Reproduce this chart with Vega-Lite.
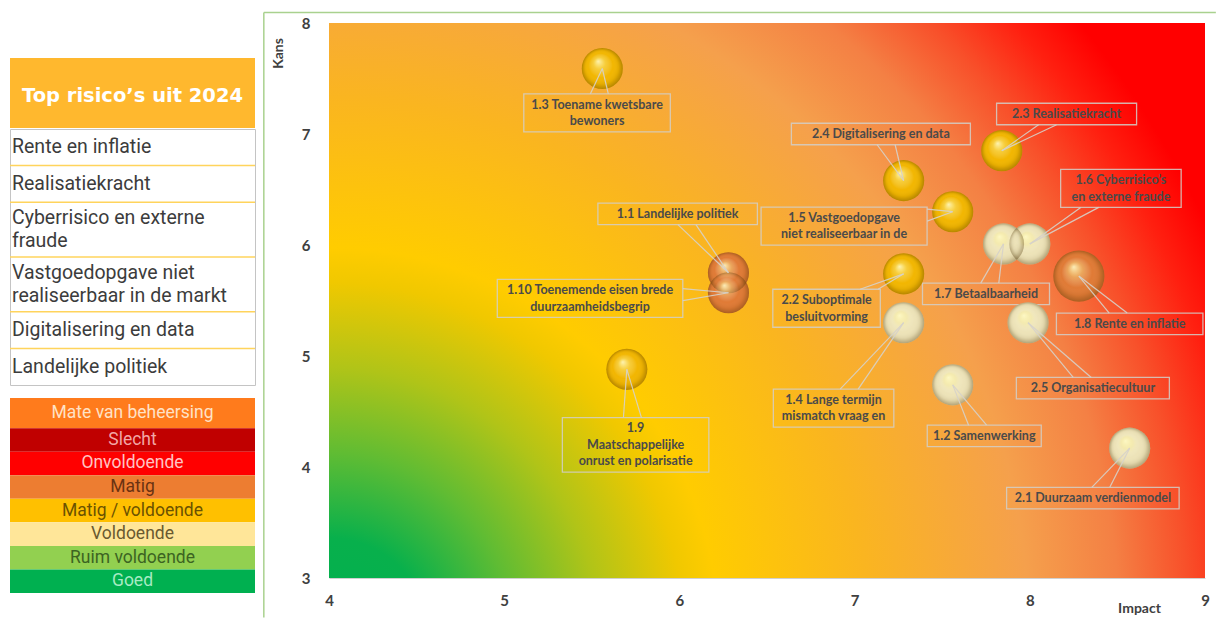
{
  "$schema": "https://vega.github.io/schema/vega-lite/v6.json",
  "padding": {"left": 8, "top": 11, "right": 0, "bottom": 0},
  "background": "white",
  "config": {"view": {"stroke": null}},
  "datasets": {
    "toplijst": [
      {"nr": 1, "risico": "Rente en inflatie"},
      {"nr": 2, "risico": "Realisatiekracht"},
      {"nr": 3, "risico": "Cyberrisico en externe\nfraude"},
      {"nr": 4, "risico": "Vastgoedopgave niet\nrealiseerbaar in de markt"},
      {"nr": 5, "risico": "Digitalisering en data"},
      {"nr": 6, "risico": "Landelijke politiek"}
    ],
    "beheersing": [
      {"nr": 0, "niveau": "Mate van beheersing"},
      {"nr": 1, "niveau": "Slecht"},
      {"nr": 2, "niveau": "Onvoldoende"},
      {"nr": 3, "niveau": "Matig"},
      {"nr": 4, "niveau": "Matig / voldoende"},
      {"nr": 5, "niveau": "Voldoende"},
      {"nr": 6, "niveau": "Ruim voldoende"},
      {"nr": 7, "niveau": "Goed"}
    ],
    "risicos": [
      {"id": "1.3", "label": "1.3 Toename kwetsbare\nbewoners", "impact": 5.56, "kans": 7.59, "beheersing": "Matig / voldoende", "omvang": 1, "lx": 5.53, "ly": 7.19},
      {"id": "1.1", "label": "1.1 Landelijke politiek", "impact": 6.28, "kans": 5.75, "beheersing": "Matig", "omvang": 1, "lx": 5.99, "ly": 6.28},
      {"id": "1.10", "label": "1.10 Toenemende eisen brede\nduurzaamheidsbegrip", "impact": 6.28, "kans": 5.57, "beheersing": "Matig", "omvang": 1, "lx": 5.49, "ly": 5.52},
      {"id": "1.9", "label": "1.9\nMaatschappelijke\nonrust en polarisatie", "impact": 5.70, "kans": 4.88, "beheersing": "Matig / voldoende", "omvang": 1, "lx": 5.75, "ly": 4.20},
      {"id": "2.4", "label": "2.4 Digitalisering en data", "impact": 7.28, "kans": 6.58, "beheersing": "Matig / voldoende", "omvang": 1, "lx": 7.15, "ly": 7.00},
      {"id": "2.3", "label": "2.3 Realisatiekracht", "impact": 7.84, "kans": 6.85, "beheersing": "Matig / voldoende", "omvang": 1, "lx": 8.21, "ly": 7.18},
      {"id": "1.5", "label": "1.5 Vastgoedopgave\nniet realiseerbaar in de", "impact": 7.56, "kans": 6.30, "beheersing": "Matig / voldoende", "omvang": 1, "lx": 6.94, "ly": 6.17},
      {"id": "1.6", "label": "1.6 Cyberrisico’s\nen externe fraude", "impact": 8.00, "kans": 6.01, "beheersing": "Voldoende", "omvang": 1, "lx": 8.52, "ly": 6.51},
      {"id": "1.7", "label": "1.7 Betaalbaarheid", "impact": 7.85, "kans": 6.01, "beheersing": "Voldoende", "omvang": 1, "lx": 7.75, "ly": 5.56},
      {"id": "1.8", "label": "1.8 Rente en inflatie", "impact": 8.28, "kans": 5.72, "beheersing": "Matig", "omvang": 1.55, "lx": 8.57, "ly": 5.29},
      {"id": "2.2", "label": "2.2 Suboptimale\nbesluitvorming", "impact": 7.28, "kans": 5.74, "beheersing": "Matig / voldoende", "omvang": 1, "lx": 6.84, "ly": 5.43},
      {"id": "1.4", "label": "1.4 Lange termijn\nmismatch vraag en", "impact": 7.28, "kans": 5.30, "beheersing": "Voldoende", "omvang": 1, "lx": 6.88, "ly": 4.53},
      {"id": "2.5", "label": "2.5 Organisatiecultuur", "impact": 7.99, "kans": 5.30, "beheersing": "Voldoende", "omvang": 1, "lx": 8.36, "ly": 4.71},
      {"id": "1.2", "label": "1.2 Samenwerking", "impact": 7.56, "kans": 4.74, "beheersing": "Voldoende", "omvang": 1, "lx": 7.74, "ly": 4.28},
      {"id": "2.1", "label": "2.1 Duurzaam verdienmodel", "impact": 8.57, "kans": 4.17, "beheersing": "Voldoende", "omvang": 1, "lx": 8.36, "ly": 3.72}
    ]
  },
  "spacing": 6,
  "hconcat": [
    {
      "spacing": 0,
      "vconcat": [
        {"width": 245, "height": 34.5, "data": {"values": [{}]}, "mark": {"type": "text", "text": ""}, "encoding": {}},
        {
          "width": 245, "height": 70,
          "view": {"fill": "#FFB82E", "stroke": null},
          "data": {"values": [{"kop": "Top risico’s uit 2024"}]},
          "mark": {"type": "text", "font": "DejaVu Sans", "fontWeight": "bold", "fontSize": 19.5, "color": "#FFFFFF", "dy": 3},
          "encoding": {"text": {"field": "kop"}}
        },
        {
          "width": 245, "height": 256,
          "view": {"fill": "#FFFFFF", "stroke": "#C4C4C4"},
          "data": {"name": "toplijst"},
          "transform": [
            {"calculate": "length(split(datum.risico, '\\n'))", "as": "nl"},
            {"calculate": "datum.nl + 1", "as": "w"},
            {"stack": "w", "groupby": [], "sort": [{"field": "nr", "order": "ascending"}], "as": ["y0", "y1"]},
            {"calculate": "(datum.y0 + datum.y1) / 2 - (datum.nl - 1) * 11.5 / 18.286", "as": "mid"}
          ],
          "layer": [
            {
              "transform": [{"filter": "datum.nr < 6"}],
              "mark": {"type": "rule", "color": "#FFD45C", "strokeWidth": 1.5},
              "encoding": {"y": {"field": "y1", "type": "quantitative", "scale": {"domain": [0, 14], "reverse": true, "nice": false, "zero": false}, "axis": null}}
            },
            {
              "mark": {"type": "text", "align": "left", "baseline": "middle", "font": "Roboto", "fontSize": 19.5, "color": "#3C3C3C", "lineBreak": "\n", "lineHeight": 23, "dx": 2},
              "encoding": {
                "x": {"datum": 0, "type": "quantitative", "scale": {"domain": [0, 1], "nice": false, "zero": false}, "axis": null},
                "y": {"field": "mid", "type": "quantitative", "scale": {"domain": [0, 14], "reverse": true, "nice": false, "zero": false}, "axis": null},
                "text": {"field": "risico"}
              }
            }
          ]
        },
        {"width": 245, "height": 12, "data": {"values": [{}]}, "mark": {"type": "text", "text": ""}, "encoding": {}},
        {
          "width": 245, "height": 195,
          "data": {"name": "beheersing"},
          "transform": [
            {"calculate": "datum.nr == 0 ? 1.28 : 1", "as": "w"},
            {"stack": "w", "groupby": [], "sort": [{"field": "nr", "order": "ascending"}], "as": ["y0", "y1"]},
            {"calculate": "(datum.y0 + datum.y1) / 2", "as": "mid"}
          ],
          "resolve": {"scale": {"color": "independent"}},
          "layer": [
            {
              "mark": {"type": "rect"},
              "encoding": {
                "x": {"datum": 0, "type": "quantitative", "scale": {"domain": [0, 1], "nice": false, "zero": false}, "axis": null},
                "x2": {"datum": 1},
                "y": {"field": "y0", "type": "quantitative", "scale": {"domain": [0, 8.28], "reverse": true, "nice": false, "zero": false}, "axis": null},
                "y2": {"field": "y1"},
                "color": {"field": "niveau", "type": "nominal", "legend": null,
                  "scale": {"domain": ["Mate van beheersing", "Slecht", "Onvoldoende", "Matig", "Matig / voldoende", "Voldoende", "Ruim voldoende", "Goed"],
                            "range": ["#FF7B1C", "#C00000", "#FF0000", "#ED7D31", "#FFC000", "#FFE699", "#92D050", "#00B050"]}}
              }
            },
            {
              "mark": {"type": "text", "align": "center", "baseline": "middle", "font": "Roboto", "fontSize": 17.5},
              "encoding": {
                "x": {"datum": 0.5, "type": "quantitative", "scale": {"domain": [0, 1], "nice": false, "zero": false}, "axis": null},
                "y": {"field": "mid", "type": "quantitative", "scale": {"domain": [0, 8.28], "reverse": true, "nice": false, "zero": false}, "axis": null},
                "text": {"field": "niveau"},
                "color": {"field": "niveau", "type": "nominal", "legend": null,
                  "scale": {"domain": ["Mate van beheersing", "Slecht", "Onvoldoende", "Matig", "Matig / voldoende", "Voldoende", "Ruim voldoende", "Goed"],
                            "range": ["#FFE2C6", "#F2A6A6", "#FFC4C4", "#6A3212", "#6B5200", "#6A5A30", "#3C6422", "#A6EBC4"]}}
              }
            }
          ]
        }
      ]
    },
    {
      "width": 876,
      "height": 555,
      "layer": [
        {
          "data": {"values": [{}]},
          "mark": {
            "type": "rect",
            "fill": {
              "gradient": "radial",
              "x1": 0, "y1": 0.885, "r1": 0,
              "x2": 0, "y2": 0.885, "r2": 1.2,
              "stops": [
                {"offset": 0, "color": "#00B050"},
                {"offset": 0.095, "color": "#08B04C"},
                {"offset": 0.176, "color": "#60BC33"},
                {"offset": 0.257, "color": "#B0C418"},
                {"offset": 0.338, "color": "#F0C800"},
                {"offset": 0.371, "color": "#FFCC00"},
                {"offset": 0.514, "color": "#FAB520"},
                {"offset": 0.666, "color": "#F5A04C"},
                {"offset": 0.752, "color": "#F48044"},
                {"offset": 0.818, "color": "#F8502A"},
                {"offset": 0.875, "color": "#FF2010"},
                {"offset": 0.923, "color": "#FF0000"},
                {"offset": 1, "color": "#FF0000"}
              ]
            }
          },
          "encoding": {
            "x": {"datum": 4, "type": "quantitative", "title": "Impact", "scale": {"domain": [4, 9], "nice": false, "zero": false},
              "axis": {"values": [4, 5, 6, 7, 8, 9], "format": "d", "grid": false, "ticks": false, "tickSize": 0,
                "domain": true, "domainColor": "#D0D0D0", "labelFont": "Lato", "labelFontWeight": "bold", "labelFontSize": 15,
                "labelColor": "#404040", "labelPadding": 15, "labelFlush": false,
                "titleFont": "Lato", "titleFontWeight": "bold", "titleFontSize": 14, "titleColor": "#404040",
                "titleX": 810, "titleY": 30, "titleAlign": "center", "titleBaseline": "middle"}},
            "x2": {"datum": 9},
            "y": {"datum": 3, "type": "quantitative", "title": "Kans", "scale": {"domain": [3, 8], "nice": false, "zero": false},
              "axis": {"values": [3, 4, 5, 6, 7, 8], "format": "d", "grid": false, "ticks": false, "tickSize": 0,
                "domain": false, "labelFont": "Lato", "labelFontWeight": "bold", "labelFontSize": 15,
                "labelColor": "#404040", "labelPadding": 19, "labelFlush": false,
                "titleFont": "Lato", "titleFontWeight": "bold", "titleFontSize": 14, "titleColor": "#404040",
                "titleX": -51, "titleY": 30, "titleAlign": "center", "titleBaseline": "middle", "titleAngle": -90}},
            "y2": {"datum": 8}
          }
        },
        {
          "data": {"values": [{}]},
          "mark": {"type": "rule", "color": "#A9D18E", "strokeWidth": 1.5},
          "encoding": {
            "x": {"datum": 3.628, "type": "quantitative", "title": "Impact", "scale": {"domain": [4, 9], "nice": false, "zero": false}},
            "x2": {"datum": 9.062},
            "y": {"datum": 8.094, "type": "quantitative", "title": "Kans", "scale": {"domain": [3, 8], "nice": false, "zero": false}}
          }
        },
        {
          "data": {"values": [{}]},
          "mark": {"type": "rule", "color": "#A9D18E", "strokeWidth": 1.5},
          "encoding": {
            "x": {"datum": 3.628, "type": "quantitative", "title": "Impact", "scale": {"domain": [4, 9], "nice": false, "zero": false}},
            "y": {"datum": 8.094, "type": "quantitative", "title": "Kans", "scale": {"domain": [3, 8], "nice": false, "zero": false}},
            "y2": {"datum": 2.645}
          }
        },
        {
          "data": {"name": "risicos"},
          "transform": [
            {"calculate": "split(datum.label, '\\n')", "as": "parts"},
            {"calculate": "length(datum.parts)", "as": "nl"},
            {"calculate": "max(length(datum.parts[0]), datum.nl > 1 ? length(datum.parts[1]) : 0, datum.nl > 2 ? length(datum.parts[2]) : 0)", "as": "ml"},
            {"calculate": "(datum.ml * 6.5 + 10) / 2", "as": "hw"},
            {"calculate": "(datum.nl * 16.5 + 5) / 2", "as": "hh"},
            {"calculate": "datum.lx - datum.hw / 175.2", "as": "bx1"},
            {"calculate": "datum.lx + datum.hw / 175.2", "as": "bx2"},
            {"calculate": "datum.ly - datum.hh / 111", "as": "by1"},
            {"calculate": "datum.ly + datum.hh / 111", "as": "by2"},
            {"calculate": "datum.ly + (datum.nl - 1) * 8.25 / 111", "as": "lyt"},
            {"calculate": "(datum.impact - datum.lx) * 175.2", "as": "dxp"},
            {"calculate": "(datum.kans - datum.ly) * 111", "as": "dyp"},
            {"calculate": "abs(datum.dxp) > 0.01 ? datum.hw / abs(datum.dxp) : 1e9", "as": "tx"},
            {"calculate": "abs(datum.dyp) > 0.01 ? datum.hh / abs(datum.dyp) : 1e9", "as": "ty"},
            {"calculate": "min(datum.tx, datum.ty)", "as": "t"},
            {"calculate": "datum.lx + datum.dxp * datum.t / 175.2", "as": "ax"},
            {"calculate": "datum.ly + datum.dyp * datum.t / 111", "as": "ay"},
            {"calculate": "datum.ty < datum.tx ? 9 / 175.2 : 0", "as": "ox"},
            {"calculate": "datum.ty < datum.tx ? 0 : 6 / 111", "as": "oy"},
            {"calculate": "datum.ax - datum.ox", "as": "ax1"},
            {"calculate": "datum.ax + datum.ox", "as": "ax2"},
            {"calculate": "datum.ay - datum.oy", "as": "ay1"},
            {"calculate": "datum.ay + datum.oy", "as": "ay2"}
          ],
          "layer": [
            {
              "mark": {"type": "rect", "fill": "#FFFFFF", "fillOpacity": 0, "stroke": "#D2CFC8", "strokeOpacity": 0.85, "strokeWidth": 1.3},
              "encoding": {
                "x": {"field": "bx1", "type": "quantitative", "title": "Impact", "scale": {"domain": [4, 9], "nice": false, "zero": false}},
                "x2": {"field": "bx2"},
                "y": {"field": "by1", "type": "quantitative", "title": "Kans", "scale": {"domain": [3, 8], "nice": false, "zero": false}},
                "y2": {"field": "by2"}
              }
            },
            {
              "mark": {"type": "point", "shape": "circle", "filled": true, "opacity": 1, "strokeWidth": 0},
              "encoding": {
                "x": {"field": "impact", "type": "quantitative", "title": "Impact", "scale": {"domain": [4, 9], "nice": false, "zero": false}},
                "y": {"field": "kans", "type": "quantitative", "title": "Kans", "scale": {"domain": [3, 8], "nice": false, "zero": false}},
                "size": {"field": "omvang", "type": "quantitative", "scale": {"type": "linear", "domain": [0, 1], "range": [0, 1690]}, "legend": null},
                "color": {"field": "beheersing", "type": "nominal", "legend": null,
                  "scale": {"domain": ["Matig", "Matig / voldoende", "Voldoende"], "range": ["#E07A35", "#F2B600", "#EDE3B8"]}}
              }
            },
            {
              "mark": {
                "type": "point", "shape": "circle", "filled": true, "opacity": 1, "strokeWidth": 0,
                "fill": {
                  "gradient": "radial",
                  "x1": 0.4, "y1": 0.32, "r1": 0,
                  "x2": 0.5, "y2": 0.5, "r2": 0.5,
                  "stops": [
                    {"offset": 0, "color": "rgba(255,250,200,0.9)"},
                    {"offset": 0.3, "color": "rgba(255,245,160,0.35)"},
                    {"offset": 0.6, "color": "rgba(255,255,255,0)"},
                    {"offset": 0.82, "color": "rgba(70,45,0,0.08)"},
                    {"offset": 1, "color": "rgba(70,45,0,0.35)"}
                  ]
                }
              },
              "encoding": {
                "x": {"field": "impact", "type": "quantitative", "title": "Impact", "scale": {"domain": [4, 9], "nice": false, "zero": false}},
                "y": {"field": "kans", "type": "quantitative", "title": "Kans", "scale": {"domain": [3, 8], "nice": false, "zero": false}},
                "size": {"field": "omvang", "type": "quantitative", "scale": {"type": "linear", "domain": [0, 1], "range": [0, 1690]}, "legend": null}
              }
            },
            {
              "mark": {"type": "rule", "color": "#D6D2CA", "opacity": 0.9, "strokeWidth": 1.2},
              "encoding": {
                "x": {"field": "impact", "type": "quantitative", "title": "Impact", "scale": {"domain": [4, 9], "nice": false, "zero": false}},
                "y": {"field": "kans", "type": "quantitative", "title": "Kans", "scale": {"domain": [3, 8], "nice": false, "zero": false}},
                "x2": {"field": "ax1"},
                "y2": {"field": "ay1"}
              }
            },
            {
              "mark": {"type": "rule", "color": "#D6D2CA", "opacity": 0.9, "strokeWidth": 1.2},
              "encoding": {
                "x": {"field": "impact", "type": "quantitative", "title": "Impact", "scale": {"domain": [4, 9], "nice": false, "zero": false}},
                "y": {"field": "kans", "type": "quantitative", "title": "Kans", "scale": {"domain": [3, 8], "nice": false, "zero": false}},
                "x2": {"field": "ax2"},
                "y2": {"field": "ay2"}
              }
            },
            {
              "mark": {"type": "text", "align": "center", "baseline": "middle", "font": "Lato", "fontWeight": "bold", "fontSize": 12.5, "color": "#4A4A4A", "lineBreak": "\n", "lineHeight": 16.5},
              "encoding": {
                "x": {"field": "lx", "type": "quantitative", "title": "Impact", "scale": {"domain": [4, 9], "nice": false, "zero": false}},
                "y": {"field": "lyt", "type": "quantitative", "title": "Kans", "scale": {"domain": [3, 8], "nice": false, "zero": false}},
                "text": {"field": "label"}
              }
            }
          ]
        }
      ]
    }
  ]
}
